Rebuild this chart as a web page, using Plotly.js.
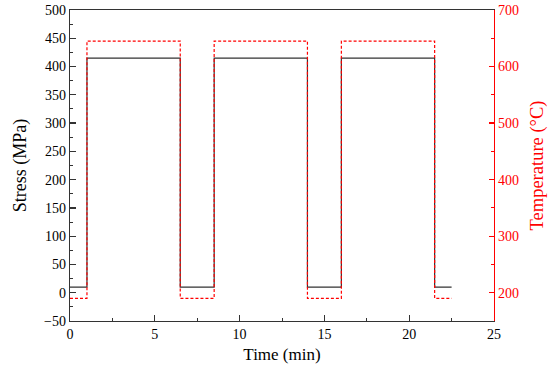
<!DOCTYPE html>
<html>
<head>
<meta charset="utf-8">
<script src="https://cdn.plot.ly/plotly-3.0.1.min.js"></script>
<style>html,body{margin:0;padding:0;background:#fff}#chart{width:550px;height:373px}</style>
</head>
<body>
<div id="chart"></div>
<script>
// Step change times (min)
var time = [0, 1, 6.5, 8.5, 14, 16, 21.5, 22.5];
// Stress (MPa) held from each time until the next
var stress = [10, 415, 10, 415, 10, 415, 10, 10];
// Temperature (°C) held from each time until the next
var temperature = [190, 645, 190, 645, 190, 645, 190, 190];

var serif = "'Liberation Serif', 'Times New Roman', Times, serif";

var traces = [
  {x: time, y: stress, mode: 'lines', line: {shape: 'hv', color: '#333333', width: 1.2}, yaxis: 'y', showlegend: false},
  {x: time, y: temperature, mode: 'lines', line: {shape: 'hv', color: '#ff0000', width: 1.2, dash: '3px,2px'}, yaxis: 'y2', showlegend: false}
];

var layout = {
  width: 550, height: 373,
  margin: {l: 70, r: 56, t: 10, b: 52},
  paper_bgcolor: '#fff', plot_bgcolor: '#fff',
  font: {family: serif, size: 14, color: '#000'},
  xaxis: {
    range: [0, 25], dtick: 5, tick0: 0,
    ticks: 'inside', ticklen: 6, tickwidth: 1.2, tickcolor: '#333',
    minor: {ticks: 'inside', ticklen: 3, dtick: 2.5, tickcolor: '#333', tickwidth: 1},
    showline: true, linecolor: '#333', linewidth: 1.3, mirror: true,
    showgrid: false, zeroline: false,
    tickfont: {family: serif, size: 14, color: '#000'},
    title: {text: 'Time (min)', font: {family: serif, size: 17, color: '#000'}, standoff: 7}
  },
  yaxis: {
    range: [-50, 500], dtick: 50, tick0: 0,
    ticks: 'inside', ticklen: 6, tickwidth: 1.2, tickcolor: '#333',
    minor: {ticks: 'inside', ticklen: 3, dtick: 25, tickcolor: '#333', tickwidth: 1},
    showline: true, linecolor: '#333', linewidth: 1.3,
    showgrid: false, zeroline: false,
    tickfont: {family: serif, size: 14, color: '#000'},
    title: {text: 'Stress (MPa)', font: {family: serif, size: 18, color: '#000'}, standoff: 12}
  },
  yaxis2: {
    overlaying: 'y', side: 'right',
    range: [150, 700], dtick: 100, tick0: 0,
    ticks: 'inside', ticklen: 5, tickwidth: 1.2, tickcolor: '#ff0000',
    minor: {ticks: 'inside', ticklen: 3, dtick: 50, tickcolor: '#ff0000', tickwidth: 1},
    showline: true, linecolor: '#ff0000', linewidth: 1.3,
    showgrid: false, zeroline: false,
    tickfont: {family: serif, size: 14, color: '#ff0000'},
    title: {text: 'Temperature (°C)', font: {family: serif, size: 18.5, color: '#ff0000'}, standoff: 12}
  }
};

Plotly.newPlot('chart', traces, layout, {staticPlot: true, displayModeBar: false});
</script>
</body>
</html>
